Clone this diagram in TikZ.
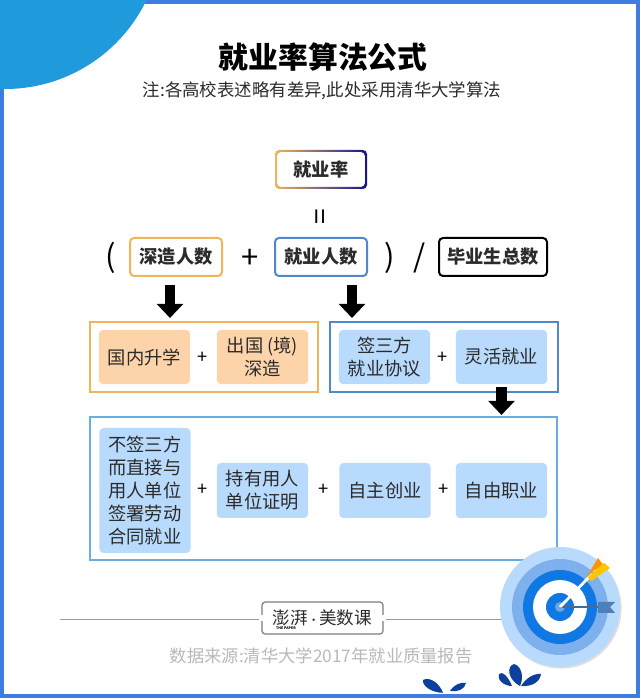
\documentclass[tikz,border=0pt]{standalone}
\usepackage{fontspec}
\setmainfont{Noto Sans CJK SC}
\usetikzlibrary{arrows.meta}

\definecolor{pageblue}{HTML}{3F7CE0}
\definecolor{cornerblue}{HTML}{1F9ADB}
\definecolor{orangeline}{HTML}{F0B45A}
\definecolor{orangefill}{HTML}{FDD3AA}
\definecolor{blueline}{HTML}{5089CB}
\definecolor{lightline}{HTML}{68AEE2}
\definecolor{bluefill}{HTML}{B8DAFC}
\definecolor{inktext}{HTML}{2B2B2B}
\definecolor{footgray}{HTML}{9A9A9A}
\definecolor{dropblue}{HTML}{0F3F9E}
\definecolor{ringmid}{HTML}{7EB0EE}
\definecolor{ringdeep}{HTML}{0F78E2}
\definecolor{ringcore}{HTML}{6FA6E0}
\definecolor{flagblue}{HTML}{4F7FB8}
\definecolor{shaftgray}{HTML}{4A6A90}
\definecolor{rateend}{HTML}{14148C}

\tikzset{
  headbox/.style={draw, line width=0.05cm, rounded corners=0.1cm, minimum height=0.95cm, outer sep=0pt, font=\fontsize{13}{15}\selectfont\bfseries, text=inktext},
  framebox/.style={draw, line width=0.05cm, outer sep=0pt},
  itembox/.style={rounded corners=0.1cm, minimum width=2.28cm, outer sep=0pt, align=center, font=\fontsize{13}{16.5}\selectfont, text=inktext},
  plussign/.style={font=\fontsize{13}{15}\selectfont, text=black},
  bigsign/.style={font=\fontsize{22}{24}\selectfont, text=black},
  bigarrow/.style={line width=0.27cm, -{Triangle[width=0.64cm,length=0.35cm]}, black},
  footline/.style={line width=0.04cm, footgray},
  dropfill/.style={fill=dropblue}
}

\begin{document}
\begin{tikzpicture}
\useasboundingbox (0,0) rectangle (16,17.45);

% Moldura e canto
\draw[line width=0.1cm, pageblue] (0.05,0.05) rectangle (15.95,17.4);
\begin{scope}
\clip (0,0) rectangle (16,17.45);
\fill[cornerblue] (0.125,19.15) circle (3.925);
\end{scope}

% Titulo
\node (title) at (8.08,16.02) {\fontsize{21.2}{23}\selectfont\bfseries 就业率算法公式};
\node[text=inktext] (note) at (8.05,15.17) {\fontsize{12.4}{14}\selectfont 注:各高校表述略有差异,此处采用清华大学算法};

% Formula
\node[headbox, draw=none, minimum width=2.3cm, minimum height=0.975cm] (rate) at (8.025,13.2125) {就业率};
\shade[left color=orangeline, right color=rateend, even odd rule, rounded corners=0.1cm]
  (rate.south west) rectangle (rate.north east)
  ([shift={(0.05cm,0.05cm)}]rate.south west) rectangle ([shift={(-0.05cm,-0.05cm)}]rate.north east);
\node[bigsign, rotate=90, font=\fontsize{20}{20}\selectfont] (equal) at (8.09,12.025) {=};

\node[bigsign] (lparen) at (2.775,11.0) {(};
\node[headbox, draw=orangeline, minimum width=2.3cm] (deep) at (4.4,11.025) {深造人数};
\node[bigsign] (plus) at (6.25,10.97) {+};
\node[headbox, draw=blueline, minimum width=2.3cm] (employed) at (8.025,11.025) {就业人数};
\node[bigsign] (rparen) at (9.75,11.0) {)};
\node[bigsign] (slash) at (10.5,11.0) {/};
\node[headbox, draw=black, minimum width=2.7cm] (total) at (12.325,11.025) {毕业生总数};

% Primeira fila
\node[framebox, draw=orangeline, minimum width=5.7cm, minimum height=1.75cm] (orangeframe) at (5.1,8.525) {};
\node[framebox, draw=blueline, minimum width=5.7cm, minimum height=1.75cm] (blueframe) at (11.1,8.525) {};
\node[itembox, fill=orangefill, minimum height=1.35cm] (domestic) at (3.6125,8.525) {国内升学};
\node[plussign] (plusa) at (5.075,8.5) {+};
\node[itembox, fill=orangefill, minimum height=1.35cm] (abroad) at (6.5625,8.525) {出国 (境)\\深造};
\node[itembox, fill=bluefill, minimum height=1.35cm] (signed) at (9.6125,8.525) {签三方\\就业协议};
\node[plussign] (plusb) at (11.075,8.5) {+};
\node[itembox, fill=bluefill, minimum height=1.35cm] (flexible) at (12.5375,8.525) {灵活就业};

% Segunda fila
\node[framebox, draw=lightline, minimum width=11.675cm, minimum height=3.575cm] (lowframe) at (8.0875,5.2375) {};
\node[itembox, fill=bluefill, minimum height=3.125cm] (unsigned) at (3.625,5.1875) {不签三方\\而直接与\\用人单位\\签署劳动\\合同就业};
\node[plussign] (plusc) at (5.075,5.2) {+};
\node[itembox, fill=bluefill, minimum height=1.375cm] (proof) at (6.5625,5.1875) {持有用人\\单位证明};
\node[plussign] (plusd) at (8.1,5.2) {+};
\node[itembox, fill=bluefill, minimum height=1.375cm] (startup) at (9.625,5.1875) {自主创业};
\node[plussign] (pluse) at (11.1,5.2) {+};
\node[itembox, fill=bluefill, minimum height=1.375cm] (freelance) at (12.5375,5.1875) {自由职业};

% Setas
\draw[bigarrow, shorten <=0.225cm, shorten >=0.1cm] ([xshift=-0.15cm]deep.south) -- ([xshift=-0.15cm]deep.south |- orangeframe.north);
\draw[bigarrow, shorten <=0.225cm, shorten >=0.1cm] ([xshift=0.775cm]employed.south) -- ([xshift=0.775cm]employed.south |- blueframe.north);
\draw[bigarrow, shorten <=0.075cm, shorten >=0.05cm] (flexible.south) -- (flexible.south |- lowframe.north);

% Rodape
\node (logo) at (8.0625,2) [minimum width=3.025cm, minimum height=0.8cm, outer sep=0pt, text=inktext] {\fontsize{12.5}{14}\selectfont 澎湃{\fontsize{8}{14}\selectfont\textperiodcentered}美数课};
\node (paper) at (7.15,1.75) {\fontsize{2.5}{3}\selectfont\bfseries THE PAPER};
\draw[line width=0.03cm, footgray!80!black, rounded corners=0.08cm] ([yshift=0.08cm]logo.west) |- (logo.north) -| ([yshift=0.08cm]logo.east);
\draw[line width=0.03cm, footgray!80!black, rounded corners=0.08cm] ([yshift=-0.08cm]logo.west) |- (logo.south) -| ([yshift=-0.08cm]logo.east);
\coordinate (lineleft) at (1.5,1.9625);
\coordinate (lineright) at (12.6,1.9625);
\draw[footline] (lineleft) -- ([xshift=-0.08cm]lineleft -| logo.west);
\draw[footline] ([xshift=0.08cm]lineright -| logo.east) -- (lineright);
\node[text=footgray!70] (source) at (8.03,1.05) {\fontsize{12.3}{14}\selectfont 数据来源:清华大学2017年就业质量报告};

% Alvo
\fill[gray!25] (14.03,2.245) circle (1.51);
\fill[bluefill] (14,2.275) circle (1.5);
\fill[ringmid] (14,2.275) circle (1.2);
\fill[ringdeep] (14,2.275) circle (0.925);
\fill[white] (14,2.275) circle (0.675);
\fill[ringdeep] (14,2.275) circle (0.35);
\fill[ringcore] (14,2.275) circle (0.125);
\draw[line width=0.05cm, shaftgray] (14,2.275) -- (15,2.275);
\fill[flagblue] (14.95,2.4) -- (15.375,2.4) -- (15.25,2.275) -- (15.375,2.125) -- (14.95,2.125) -- cycle;
\draw[line width=0.07cm, white] (14,2.275) -- (14.8,3.1);
\fill[orange!85!yellow] (14.65,3.0) -- (14.95,3.5) -- (15.1,3.3) -- (14.85,3.2) -- cycle;
\fill[orange!45!yellow] (14.78,2.92) -- (15.25,3.25) -- (15.1,3.38) -- (14.7,3.02) -- cycle;

% Gotas
\fill[dropfill] (13,0.3) .. controls (12.7,0.45) and (12.65,0.8) .. (12.85,0.85) .. controls (13.05,0.8) and (13.1,0.5) .. (13,0.3);
\fill[dropfill] (12.8,0.3) .. controls (12.7,0.55) and (12.55,0.68) .. (12.475,0.6) .. controls (12.42,0.45) and (12.6,0.3) .. (12.8,0.3);
\fill[dropfill] (13.025,0.3) .. controls (13.15,0.5) and (13.35,0.62) .. (13.525,0.6) .. controls (13.5,0.4) and (13.3,0.28) .. (13.025,0.3);
\fill[dropfill] (11.075,0.13) .. controls (11,0.35) and (10.75,0.55) .. (10.575,0.45) .. controls (10.55,0.3) and (10.8,0.13) .. (11.075,0.13);
\fill[dropfill] (11.25,0.18) .. controls (11.35,0.33) and (11.5,0.4) .. (11.65,0.375) .. controls (11.62,0.22) and (11.45,0.14) .. (11.25,0.18);

\end{tikzpicture}
\end{document}
